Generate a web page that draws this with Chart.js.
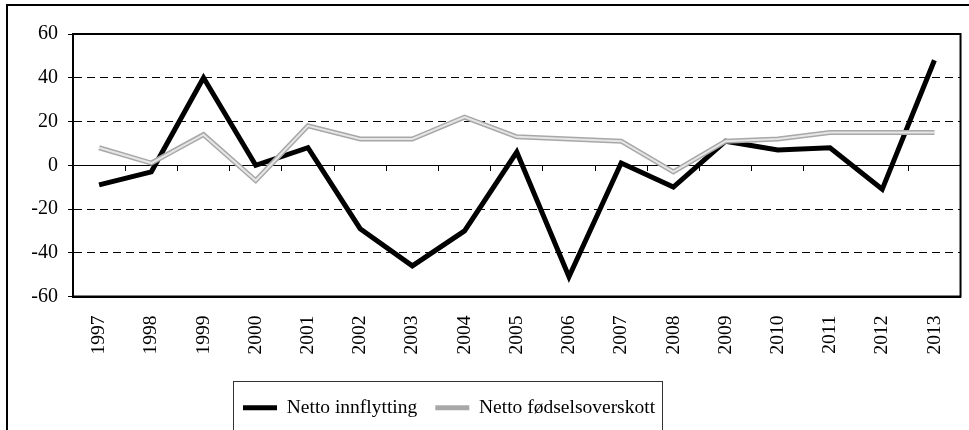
<!DOCTYPE html>
<html>
<head>
<meta charset="utf-8">
<script src="https://cdn.jsdelivr.net/npm/chart.js@4/dist/chart.umd.min.js"></script>
<style>
  html, body { margin: 0; padding: 0; background: #fff; overflow: hidden; }
  #wrap { position: relative; width: 969px; height: 430px; }
</style>
</head>
<body>
<div id="wrap"><canvas id="befolkningChart"></canvas></div>
<script>
// Befolkningsendring 1997-2013
const aar = ['1997', '1998', '1999', '2000', '2001', '2002', '2003', '2004', '2005',
             '2006', '2007', '2008', '2009', '2010', '2011', '2012', '2013'];
const nettoInnflytting = [-9, -3, 40, 0, 8, -29, -46, -30, 6, -51, 1, -10, 11, 7, 8, -11, 48];
const fodselsoverskott = [8, 1, 14, -7, 18, 12, 12, 22, 13, 12, 11, -3, 11, 12, 15, 15, 15];
const yTicks = [-60, -40, -20, 0, 20, 40, 60];

const serif = "'Liberation Serif', 'Times New Roman', serif";

// ramme rundt figuren, plottområdet og forklaringen
const rammePlugin = {
    id: 'ramme',
    afterLayout(chart) {
        const lg = chart.legend;
        const w = lg.right - lg.left;
        const h = lg.bottom - lg.top;
        lg.left = 225;
        lg.right = lg.left + w;
        lg.top = 380;
        lg.bottom = lg.top + h;
    },
    beforeDraw(chart) {
        const ctx = chart.ctx;
        ctx.save();
        ctx.strokeStyle = '#000';
        ctx.lineWidth = 2;
        ctx.strokeRect(7, 5, 1100, 1000);
        ctx.restore();
    },
    beforeDatasetsDraw(chart) {
        const a = chart.chartArea;
        const ctx = chart.ctx;
        ctx.save();
        ctx.strokeStyle = '#000';
        ctx.lineWidth = 2;
        ctx.strokeRect(a.left, a.top, a.right - a.left, a.bottom - a.top);
        ctx.restore();
    },
    afterDraw(chart) {
        const ctx = chart.ctx;
        ctx.save();
        ctx.strokeStyle = '#333';
        ctx.lineWidth = 1;
        ctx.strokeRect(233.5, 381.5, 429, 100);
        ctx.restore();
    }
};

const ctx = document.getElementById('befolkningChart');
new Chart(ctx, {
    type: 'line',
    data: {
        labels: aar,
        datasets: [
            {
                label: 'Netto innflytting',
                data: nettoInnflytting,
                borderColor: '#000',
                backgroundColor: '#000',
                borderWidth: 5,
                pointRadius: 0,
                tension: 0,
                order: 3
            },
            {
                label: 'Netto fødselsoverskott',
                data: fodselsoverskott,
                borderColor: '#a8a8a8',
                backgroundColor: '#a8a8a8',
                borderWidth: 5,
                pointRadius: 0,
                tension: 0,
                order: 2
            },
            {
                label: 'indre',
                data: fodselsoverskott,
                borderColor: '#e6e6e6',
                borderWidth: 2,
                pointRadius: 0,
                tension: 0,
                order: 1
            }
        ]
    },
    options: {
        responsive: true,
        maintainAspectRatio: false,
        animation: false,
        layout: {
            padding: { left: 0, right: 6, top: 34, bottom: 26 }
        },
        plugins: {
            tooltip: { enabled: false },
            legend: {
                position: 'bottom',
                align: 'start',
                labels: {
                    usePointStyle: true,
                    pointStyle: 'line',
                    pointStyleWidth: 34,
                    padding: 18,
                    color: '#000',
                    font: { family: serif, size: 19.5 },
                    filter: item => item.datasetIndex !== 2,
                    sort: (a, b) => a.datasetIndex - b.datasetIndex
                }
            }
        },
        scales: {
            x: {
                offset: true,
                grid: { display: false },
                border: { display: true, color: '#000', width: 2 },
                ticks: {
                    autoSkip: false,
                    minRotation: 90,
                    maxRotation: 90,
                    padding: 11,
                    color: '#000',
                    font: { family: serif, size: 19.5 }
                },
                afterFit: s => { s.height = 60; }
            },
            xNull: {
                type: 'category',
                position: { y: 0 },
                offset: true,
                grid: {
                    offset: true,
                    drawOnChartArea: false,
                    tickLength: 5,
                    color: '#000'
                },
                border: { display: true, color: '#000', width: 1 },
                ticks: { display: false }
            },
            y: {
                min: yTicks[0],
                max: yTicks[yTicks.length - 1],
                ticks: {
                    stepSize: yTicks[1] - yTicks[0],
                    padding: 10,
                    color: '#000',
                    font: { family: serif, size: 20 }
                },
                grid: {
                    color: '#000',
                    lineWidth: 1,
                    tickLength: 5
                },
                border: { display: true, color: '#000', width: 2, dash: [8, 5] },
                afterFit: s => { s.width = 73; }
            }
        }
    },
    plugins: [rammePlugin]
});
</script>
</body>
</html>
